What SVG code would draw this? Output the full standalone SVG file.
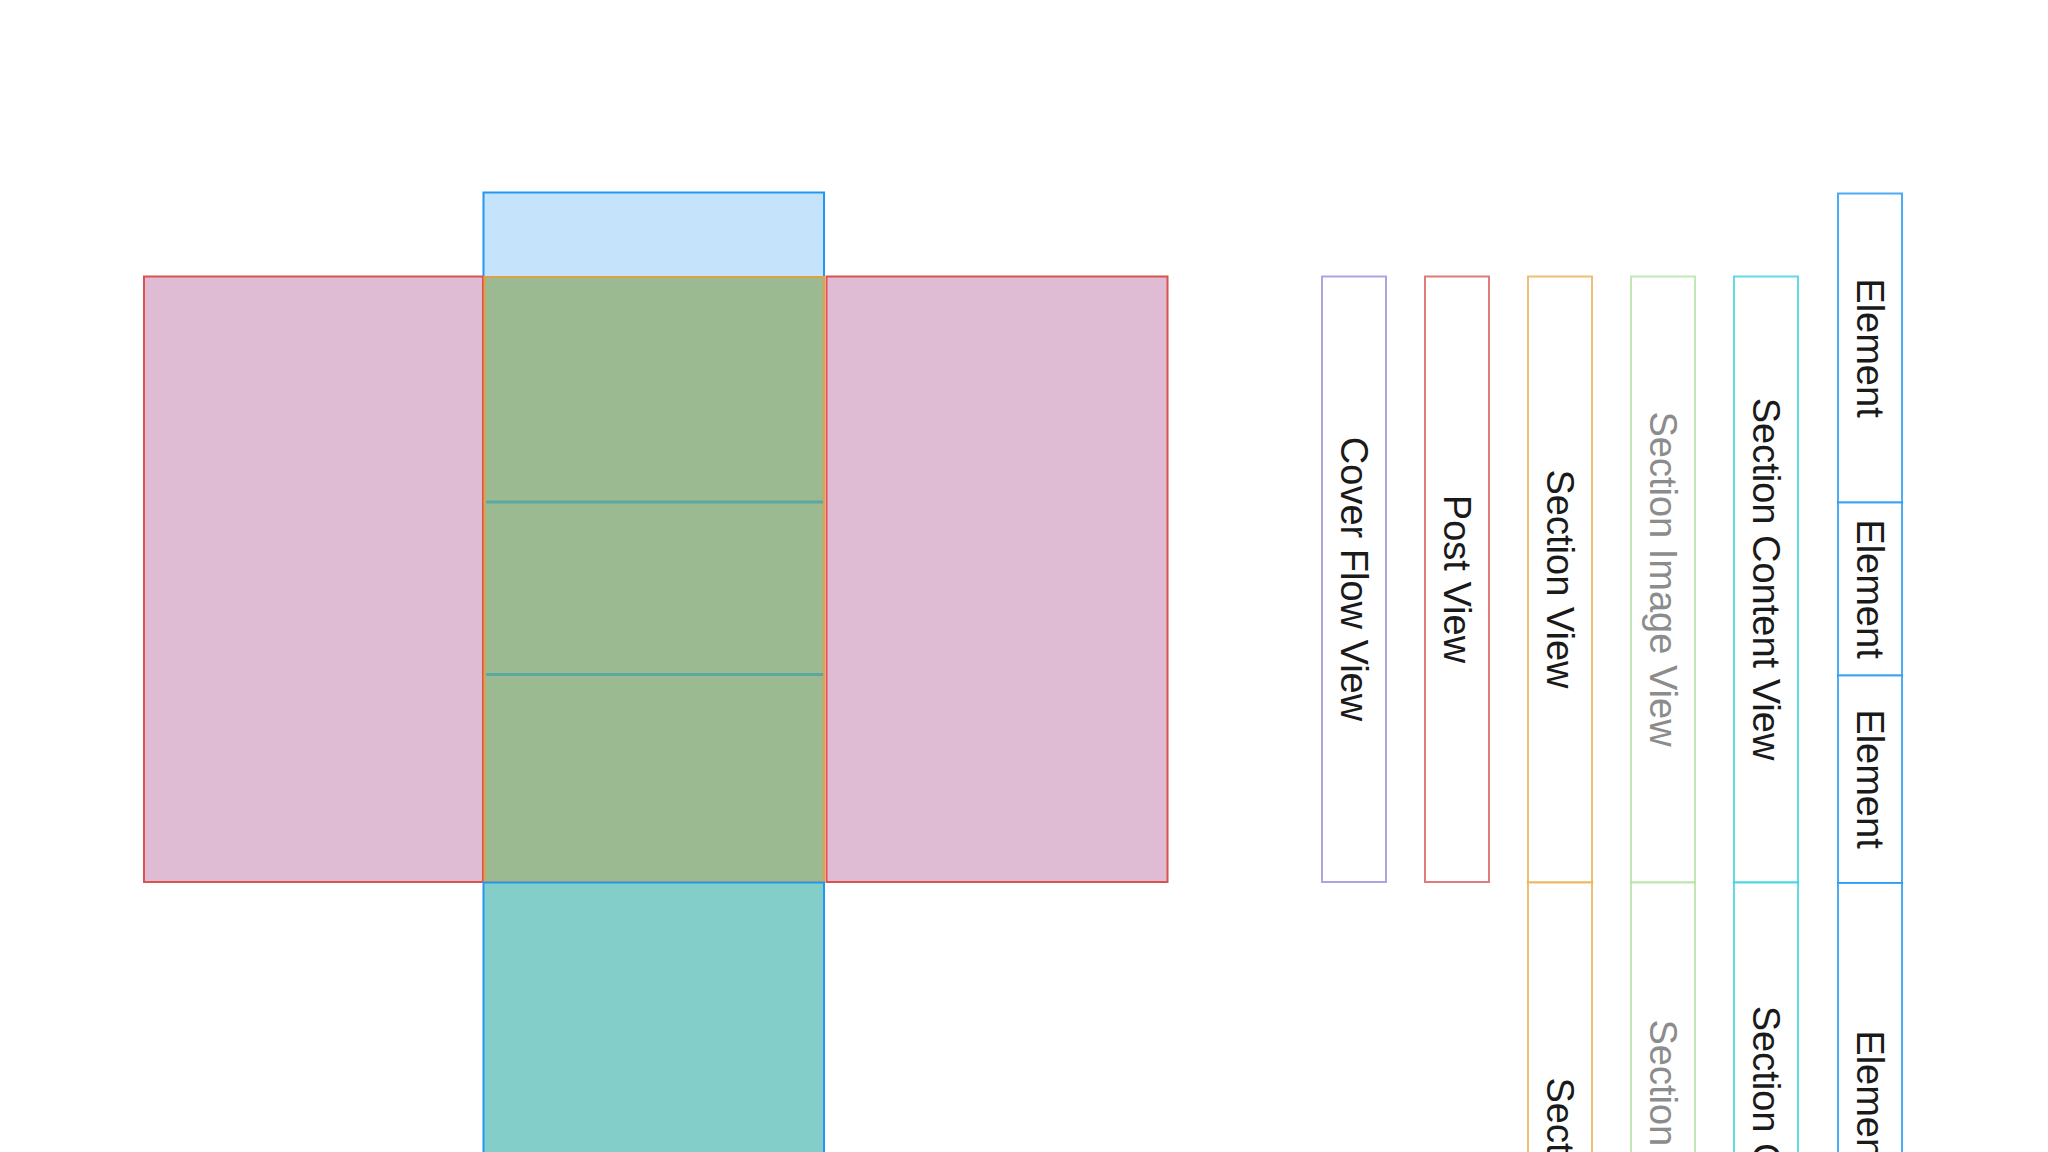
<svg xmlns="http://www.w3.org/2000/svg" width="2048" height="1152" viewBox="0 0 2048 1152">
  <style>
    .lbl { font-family: "Liberation Sans", Arial, sans-serif; font-size: 38px; fill: #1a1a1a; text-anchor: middle; }
    .gray { fill: #8c8c8c; }
    .col { fill: #ffffff; stroke-width: 2; }
    .pink { fill: #dfbcd3; stroke: #d9534f; stroke-width: 2; }
    .blue { stroke: #2196f3; stroke-width: 2; }
  </style>
  <rect width="2048" height="1152" fill="#ffffff"/>

  <g id="layout">
    <g id="top-bar"><rect class="blue" x="483.5" y="192.5" width="340.5" height="84.5" fill="#c5e4fb"/></g>
    <g id="left-panel"><rect class="pink" x="144" y="276.5" width="339" height="605.5"/></g>
    <g id="right-panel"><rect class="pink" x="826.5" y="276.5" width="341" height="605.5"/></g>
    <g id="center-panel">
      <rect x="484.5" y="277" width="339.5" height="605" fill="#9bba92" stroke="#e2a045" stroke-width="2"/>
    </g>
    <g id="bottom-bar"><rect class="blue" x="483.5" y="882.5" width="340.5" height="320" fill="#83cec9"/></g>
  </g>

  <g id="connectors">
    <line x1="486" y1="502" x2="823" y2="502" stroke="#5ba89e" stroke-width="3"/>
    <line x1="486" y1="674.5" x2="823" y2="674.5" stroke="#5ba89e" stroke-width="3"/>
  </g>

  <g id="cover-flow-view">
    <rect class="col" x="1322" y="276.5" width="64" height="605.5" stroke="#a9a4e4"/>
    <text class="lbl" transform="translate(1340.5,579) rotate(90)">Cover Flow View</text>
  </g>
  <g id="post-view">
    <rect class="col" x="1425" y="276.5" width="64" height="605.5" stroke="#e07b7b"/>
    <text class="lbl" transform="translate(1443.5,579) rotate(90)">Post View</text>
  </g>
  <g id="section-view">
    <rect class="col" x="1528" y="276.5" width="64" height="606" stroke="#e8a33c" stroke-opacity="0.7"/>
    <rect class="col" x="1528" y="882.5" width="64" height="606" stroke="#e8a33c" stroke-opacity="0.7"/>
    <text class="lbl" transform="translate(1546.5,579) rotate(90)">Section View</text>
    <text class="lbl" transform="translate(1546.5,1187) rotate(90)">Section View</text>
  </g>
  <g id="section-image-view">
    <rect class="col" x="1631" y="276.5" width="64" height="606" stroke="#a8e096" stroke-opacity="0.7"/>
    <rect class="col" x="1631" y="882.5" width="64" height="606" stroke="#a8e096" stroke-opacity="0.7"/>
    <text class="lbl gray" transform="translate(1649.5,579) rotate(90)">Section Image View</text>
    <text class="lbl gray" transform="translate(1649.5,1187) rotate(90)">Section Image View</text>
  </g>
  <g id="section-content-view">
    <rect class="col" x="1734" y="276.5" width="64" height="606" stroke="#1ecbdc" stroke-opacity="0.7"/>
    <rect class="col" x="1734" y="882.5" width="64" height="606" stroke="#1ecbdc" stroke-opacity="0.7"/>
    <text class="lbl" transform="translate(1752.5,579) rotate(90)">Section Content View</text>
    <text class="lbl" transform="translate(1752.5,1187) rotate(90)">Section Content View</text>
  </g>
  <g id="elements">
    <rect class="col" x="1838" y="193.5" width="64" height="309" stroke="#2196f3" stroke-opacity="0.8"/>
    <rect class="col" x="1838" y="502.5" width="64" height="173" stroke="#2196f3" stroke-opacity="0.8"/>
    <rect class="col" x="1838" y="675.5" width="64" height="207.5" stroke="#2196f3" stroke-opacity="0.8"/>
    <rect class="col" x="1838" y="883" width="64" height="434" stroke="#2196f3" stroke-opacity="0.8"/>
    <text class="lbl" transform="translate(1856.5,348) rotate(90)">Element</text>
    <text class="lbl" transform="translate(1856.5,589) rotate(90)">Element</text>
    <text class="lbl" transform="translate(1856.5,779) rotate(90)">Element</text>
    <text class="lbl" transform="translate(1856.5,1100) rotate(90)">Element</text>
  </g>
</svg>
